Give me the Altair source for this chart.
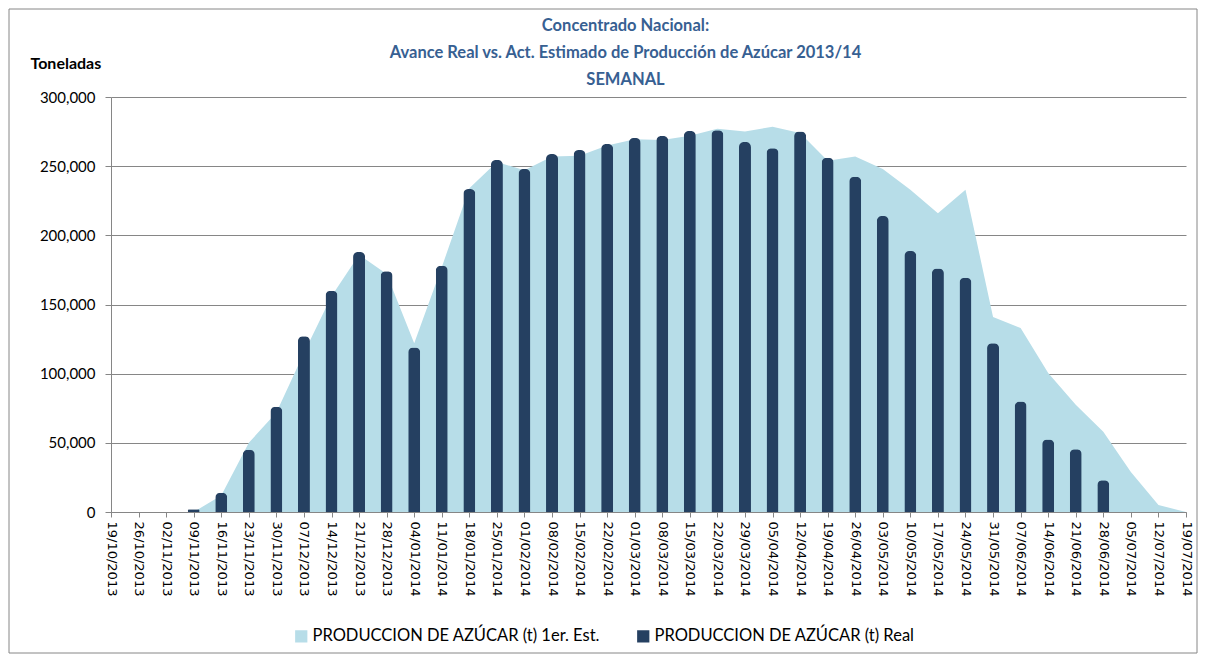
import altair as alt
import pandas as pd

dates = ["19/10/2013", "26/10/2013", "02/11/2013", "09/11/2013", "16/11/2013", "23/11/2013",
         "30/11/2013", "07/12/2013", "14/12/2013", "21/12/2013", "28/12/2013", "04/01/2014",
         "11/01/2014", "18/01/2014", "25/01/2014", "01/02/2014", "08/02/2014", "15/02/2014",
         "22/02/2014", "01/03/2014", "08/03/2014", "15/03/2014", "22/03/2014", "29/03/2014",
         "05/04/2014", "12/04/2014", "19/04/2014", "26/04/2014", "03/05/2014", "10/05/2014",
         "17/05/2014", "24/05/2014", "31/05/2014", "07/06/2014", "14/06/2014", "21/06/2014",
         "28/06/2014", "05/07/2014", "12/07/2014", "19/07/2014"]

est = [0, 0, 0, 0, 12000, 50000, 72000, 115000, 156000, 186000, 172000, 122000,
       177000, 234000, 253000, 247000, 257000, 257500, 265000, 269500, 269000, 272000,
       277000, 275000, 278500, 274000, 254000, 257000, 248000, 233000, 216000, 233000,
       141000, 133000, 100500, 77500, 58000, 29000, 5000, 0]

real = [None, None, None, 2000, 14000, 45000, 76000, 127000, 160000, 188000, 174000, 119000,
        178000, 233500, 254500, 248000, 258800, 261700, 266000, 270400, 271800, 275400,
        276000, 267500, 263000, 275000, 256000, 242400, 214000, 188700, 176000, 169400,
        122000, 79800, 52500, 45300, 23000, None, None, None]

y_ticks = [0, 50000, 100000, 150000, 200000, 250000, 300000]

EST = "PRODUCCION DE AZÚCAR (t) 1er. Est."
REAL = "PRODUCCION DE AZÚCAR (t) Real"

rows = []
for d, e, r in zip(dates, est, real):
    rows.append({"fecha": d, "serie": EST, "valor": e})
    if r is not None:
        rows.append({"fecha": d, "serie": REAL, "valor": r})
df = pd.DataFrame(rows)

GREY = "#868686"

xenc = alt.X(
    "fecha:N", sort=dates,
    scale=alt.Scale(type="point", padding=0),
    axis=alt.Axis(title=None, labelAngle=90, labelFont="DejaVu Sans", labelFontSize=13,
                  labelColor="black", labelAlign="left", labelBaseline="middle",
                  tickSize=5, tickColor=GREY, domainColor=GREY, labelPadding=4,
                  grid=False, labelOverlap=False),
)
yenc = alt.Y(
    "valor:Q",
    scale=alt.Scale(domain=[0, 300000], nice=False),
    axis=alt.Axis(values=y_ticks, format=",.0f", title="Toneladas", titleAngle=0,
                  titleX=-81, titleY=-34, titleAlign="left", titleBaseline="middle",
                  titleFont="Lato", titleFontSize=16, titleFontWeight="bold",
                  titleColor="black", labelFont="Lato", labelFontSize=15,
                  labelColor="black", tickSize=6, tickColor=GREY, domainColor=GREY,
                  gridColor=GREY, gridWidth=1, labelPadding=10),
)
color = alt.Color(
    "serie:N",
    scale=alt.Scale(domain=[EST, REAL], range=["#B7DDE8", "#254061"]),
    legend=alt.Legend(title=None, orient="none", legendX=182, legendY=531,
                      direction="horizontal", symbolType="square", symbolSize=150,
                      symbolStrokeWidth=0, labelFont="Lato", labelFontSize=16.5,
                      labelColor="black", columnPadding=34, labelOffset=3,
                      labelLimit=500),
)

frame = alt.Chart(pd.DataFrame({"a": [0]})).mark_rect(
    fillOpacity=0, stroke=GREY, strokeWidth=1
).encode(x=alt.value(-102), x2=alt.value(1086), y=alt.value(-88), y2=alt.value(556))

area = alt.Chart(df).transform_filter(alt.datum.serie == EST).mark_area(
    opacity=1, interpolate="linear"
).encode(x=xenc, y=yenc, color=color)

bars = alt.Chart(df).transform_filter(alt.datum.serie == REAL).mark_bar(
    size=12, cornerRadiusTopLeft=5, cornerRadiusTopRight=5
).encode(x=xenc, y=yenc, color=color)

chart = alt.layer(frame, area, bars).properties(
    width=1075, height=415,
    title=alt.Title(
        text=["Concentrado Nacional:",
              "Avance Real vs. Act. Estimado de Producción de Azúcar 2013/14",
              "SEMANAL"],
        font="Lato", fontSize=16.5, fontWeight="bold", color="#376092",
        lineHeight=27, anchor="middle", dx=-23, offset=-80,
    ),
    autosize=alt.AutoSizeParams(type="none"),
    padding={"left": 103, "top": 89, "right": 12, "bottom": 142},
).configure_view(strokeWidth=0)

chart.save("out.html", embed_options={"renderer": "svg", "actions": False})
